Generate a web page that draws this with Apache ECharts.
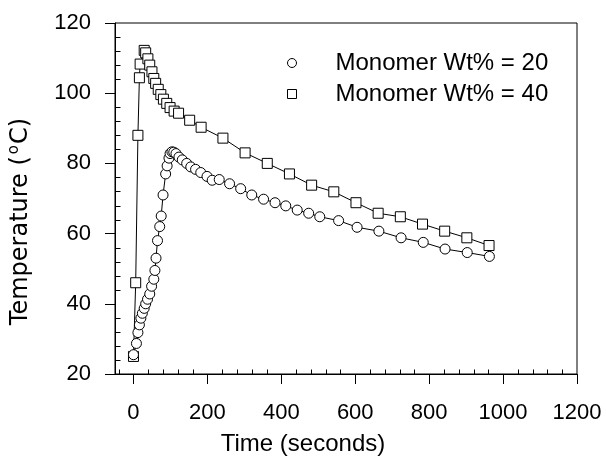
<!DOCTYPE html>
<html>
<head>
    <meta charset="UTF-8">
    <title>Temperature vs time</title>
    <script src="https://cdn.jsdelivr.net/npm/echarts@6/dist/echarts.min.js"></script>
    <style>
        body { margin: 0; background: #fff; }
        #chart { width: 606px; height: 457px; }
    </style>
</head>
<body>
    <div id="chart"></div>
    <script>
        // Monomer Wt% = 20 (circles)
        var time20 = [0, 8, 12, 16, 20, 24, 29, 33, 38, 44, 49, 55, 58, 61, 65, 71, 75, 80, 87, 91, 96, 99, 104, 109, 115, 123, 132, 144, 155, 168, 182, 199, 213, 232, 260, 290, 320, 352, 383, 412, 443, 474, 504, 555, 605, 664, 724, 784, 843, 903, 963];
        var temp20 = [25.5, 28.7, 31.8, 34, 35.9, 37.3, 38.7, 40, 41.3, 42.8, 45, 47, 49.5, 53, 58, 62, 65, 71, 77, 79.3, 81.5, 82.8, 83.3, 83.2, 82.8, 81.8, 81, 80, 79, 78.3, 77.4, 76.3, 75.2, 75.4, 74.2, 72.8, 71, 69.8, 68.8, 67.9, 66.7, 65.8, 64.8, 63.7, 61.8, 60.7, 58.8, 57.5, 55.6, 54.6, 53.5];

        // Monomer Wt% = 40 (squares)
        var time40 = [0, 6, 12, 16, 18, 29, 33, 39, 44, 50, 55, 60, 67, 74, 81, 90, 99, 110, 122, 152, 183, 242, 302, 362, 422, 482, 542, 602, 662, 722, 782, 842, 902, 962];
        var temp40 = [25, 46, 88, 104.4, 108.3, 112.2, 111.5, 109.8, 108, 106.1, 104.2, 102.8, 101.1, 99.6, 98.3, 97.1, 95.9, 94.9, 94.3, 92.3, 90.3, 87.2, 83, 80, 77, 73.8, 71.9, 68.8, 65.8, 64.8, 62.7, 60.7, 58.8, 56.6];

        var xLabels = [0, 200, 400, 600, 800, 1000, 1200];
        var yLabels = [20, 40, 60, 80, 100, 120];
        var seriesNames = ['Monomer Wt% = 20', 'Monomer Wt% = 40'];

        var X_MIN = -50, X_MAX = 1200, Y_MIN = 20, Y_MAX = 120;
        var FONT = 'Liberation Sans, Arial, sans-serif';

        function pairs(xs, ys) {
            return xs.map(function (x, i) { return [x, ys[i]]; });
        }
        function plain(v) { return String(v); }

        // minor tick positions (4 between each pair of major ticks), pointing inward
        var xMinor = [];
        for (var v = -40; v < X_MAX; v += 40) {
            if (v % 200 !== 0) xMinor.push(v);
        }
        var yMinor = [];
        for (var w = 24; w < Y_MAX; w += 4) {
            if (w % 20 !== 0) yMinor.push(w);
        }

        function minorTick(horizontal) {
            return function (params, api) {
                var p = api.coord([api.value(0), api.value(1)]);
                var x = Math.round(p[0]) + 0.5, y = Math.round(p[1]) + 0.5;
                var shape = horizontal
                    ? {x1: x, y1: y, x2: x, y2: y - 5}
                    : {x1: x, y1: y, x2: x + 5, y2: y};
                return {type: 'line', shape: shape, style: {stroke: '#000', lineWidth: 1}};
            };
        }

        var chart = echarts.init(document.getElementById('chart'), null, {renderer: 'canvas'});

        var option = {
            animation: false,
            backgroundColor: '#fff',
            textStyle: {fontFamily: FONT, color: '#000'},
            grid: {
                left: 115, right: 29, top: 23, bottom: 83,
                show: true, borderColor: '#000', borderWidth: 1,
                outerBoundsMode: 'none'
            },
            legend: {
                orient: 'vertical',
                left: 282,
                top: 46,
                itemWidth: 9,
                itemHeight: 9,
                itemGap: 7,
                data: [
                    {name: seriesNames[0], icon: 'circle'},
                    {name: seriesNames[1], icon: 'rect'}
                ],
                itemStyle: {color: '#fff', borderColor: '#000', borderWidth: 1},
                textStyle: {fontFamily: FONT, fontSize: 24, color: '#000', padding: [0, 0, 0, 34]}
            },
            xAxis: {
                type: 'value',
                min: X_MIN, max: X_MAX,
                name: 'Time (seconds)',
                nameLocation: 'middle',
                nameGap: 58,
                nameTextStyle: {fontFamily: FONT, fontSize: 24, color: '#000', padding: [0, 86, 0, 0]},
                axisLine: {show: true, onZero: false, lineStyle: {color: '#000', width: 1}},
                axisTick: {show: true, length: 10, customValues: xLabels, lineStyle: {color: '#000'}},
                axisLabel: {customValues: xLabels, formatter: plain, margin: 28, fontFamily: FONT, fontSize: 22, color: '#000'},
                splitLine: {show: false}
            },
            yAxis: {
                type: 'value',
                min: Y_MIN, max: Y_MAX, interval: 20,
                name: '{a|Temperature (}{s|o}{a|C)}',
                nameLocation: 'middle',
                nameGap: 80,
                nameRotate: 90,
                nameTextStyle: {
                    padding: [0, 46, 0, 0],
                    rich: {
                        a: {fontFamily: 'DejaVu Sans, sans-serif', fontSize: 24, color: '#000', lineHeight: 28},
                        s: {fontFamily: 'DejaVu Sans, sans-serif', fontSize: 15, color: '#000', verticalAlign: 'top', padding: [0, 1, 0, 2]}
                    }
                },
                axisLine: {show: true, onZero: false, lineStyle: {color: '#000', width: 1}},
                axisTick: {show: true, length: 10, customValues: yLabels, lineStyle: {color: '#000'}},
                axisLabel: {customValues: yLabels, formatter: plain, margin: 24, fontFamily: FONT, fontSize: 22, color: '#000'},
                splitLine: {show: false}
            },
            series: [
                {
                    name: seriesNames[1],
                    type: 'line',
                    data: pairs(time40, temp40),
                    symbol: 'rect',
                    symbolSize: 10,
                    showAllSymbol: true,
                    lineStyle: {color: '#000', width: 1},
                    itemStyle: {color: '#fff', borderColor: '#000', borderWidth: 1}
                },
                {
                    name: seriesNames[0],
                    type: 'line',
                    data: pairs(time20, temp20),
                    symbol: 'circle',
                    symbolSize: 10,
                    showAllSymbol: true,
                    lineStyle: {color: '#000', width: 1},
                    itemStyle: {color: '#fff', borderColor: '#000', borderWidth: 1}
                },
                {
                    name: 'xMinorTicks',
                    type: 'custom',
                    silent: true,
                    clip: false,
                    renderItem: minorTick(true),
                    data: xMinor.map(function (t) { return [t, Y_MIN]; })
                },
                {
                    name: 'yMinorTicks',
                    type: 'custom',
                    silent: true,
                    clip: false,
                    renderItem: minorTick(false),
                    data: yMinor.map(function (t) { return [X_MIN, t]; })
                }
            ]
        };

        chart.setOption(option);
    </script>
</body>
</html>
